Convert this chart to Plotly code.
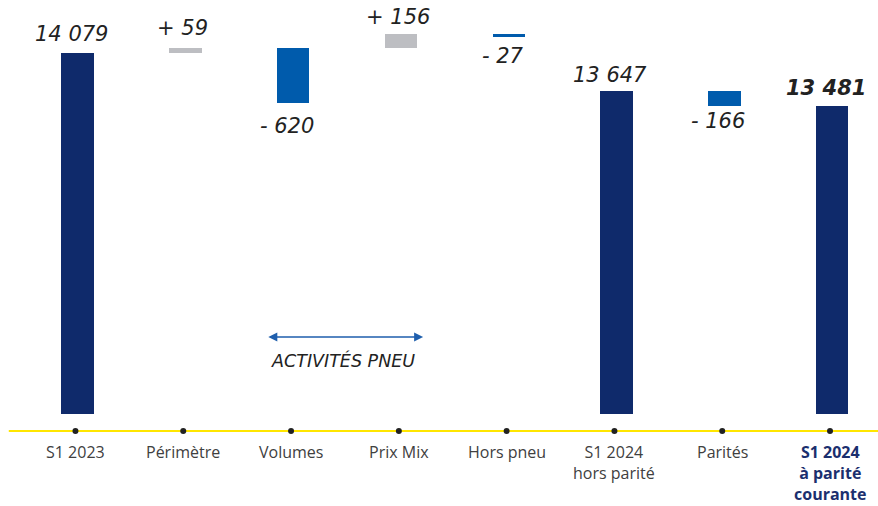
import plotly.graph_objects as go

# Bridge of sales, S1 2023 -> S1 2024 (M€)
categories = ["S1 2023", "Périmètre", "Volumes", "Prix Mix", "Hors pneu",
              "S1 2024<br>hors parité", "Parités", "S1 2024<br>à parité<br>courante"]
values = [14079, 59, -620, 156, -27, 13647, -166, 13481]
is_total = [True, False, False, False, False, True, False, True]
# Volumes hangs from the running level without moving it for the next step
moves_level = [True, True, False, True, True, True, True, True]

AXIS_FLOOR = 10000
Y_RANGE = [9805, 14680]

NAVY = "#0F2A6B"
BLUE = "#005BAC"
GREY = "#BDBEC2"
INK = "#222222"

# Compute bar bases and signed heights
bases, heights, colors, ends = [], [], [], []
level = None
for v, tot, mv in zip(values, is_total, moves_level):
    if tot:
        bases.append(AXIS_FLOOR)
        heights.append(v - AXIS_FLOOR)
        colors.append(NAVY)
        ends.append(v)
        level = v
    else:
        bases.append(level)
        heights.append(v)
        colors.append(GREY if v > 0 else BLUE)
        ends.append(level + v)
        if mv:
            level = level + v

x = list(range(len(categories)))

fig = go.Figure()
fig.add_trace(go.Bar(
    x=x, y=heights, base=bases, width=0.3, offset=-0.13,
    marker=dict(color=colors, line=dict(width=0)),
    hoverinfo="skip", showlegend=False,
))

# Dots on the axis line
fig.add_trace(go.Scatter(
    x=x, y=[Y_RANGE[0]] * len(x), mode="markers",
    marker=dict(size=6, color=INK), cliponaxis=False,
    hoverinfo="skip", showlegend=False,
))


def fmt(v, signed):
    s = f"{abs(v):,}".replace(",", " ")
    if signed:
        return ("+ " if v > 0 else "- ") + s
    return s


annotations = []
label_gap = [5, 6, -9, 3, -5, 2, -1, 4]
for i, (v, tot) in enumerate(zip(values, is_total)):
    up = tot or v > 0
    annotations.append(dict(
        x=i, y=ends[i], xref="x", yref="y",
        text=fmt(v, not tot), showarrow=False,
        yanchor="bottom" if up else "top", yshift=label_gap[i],
        xshift=-1 if (not tot and v > 0) else -4,
        font=dict(family="DejaVu Sans", size=21, color=INK, style="italic",
                  weight="bold" if i == len(values) - 1 else "normal"),
    ))

# Category labels under the axis
for i, c in enumerate(categories):
    last = i == len(categories) - 1
    annotations.append(dict(
        x=i, y=0, xref="x", yref="paper", yanchor="top", yshift=-8,
        text=f"<b>{c}</b>" if last else c, showarrow=False,
        font=dict(family="Open Sans", size=16,
                  color="#1B2F6E" if last else "#404040"),
    ))

# Tyre-activities bracket
annotations.append(dict(
    x=3.225, y=0.218, xref="x", yref="y domain",
    ax=1.775, ay=0.218, axref="x", ayref="y domain",
    showarrow=True, arrowside="end+start", arrowhead=2, arrowsize=1.2,
    arrowwidth=1.5, arrowcolor="#1F5FAD", text="",
))
annotations.append(dict(
    x=2.48, y=0.162, xref="x", yref="paper", yshift=-12, showarrow=False,
    text="ACTIVITÉS PNEU",
    font=dict(family="DejaVu Sans", size=17.5, color=INK, style="italic"),
))

fig.update_layout(
    width=878, height=506,
    margin=dict(l=0, r=0, t=0, b=75),
    paper_bgcolor="white", plot_bgcolor="white",
    xaxis=dict(range=[-0.70, 7.445], showticklabels=False, showgrid=False,
               zeroline=False, fixedrange=True),
    yaxis=dict(range=Y_RANGE, visible=False, fixedrange=True),
    annotations=annotations,
    shapes=[dict(type="line", xref="paper", yref="paper", x0=0.01, x1=1,
                 y0=0, y1=0, line=dict(color="#FFE600", width=2), layer="below")],
    bargap=0,
)

fig.write_html("out.html")
